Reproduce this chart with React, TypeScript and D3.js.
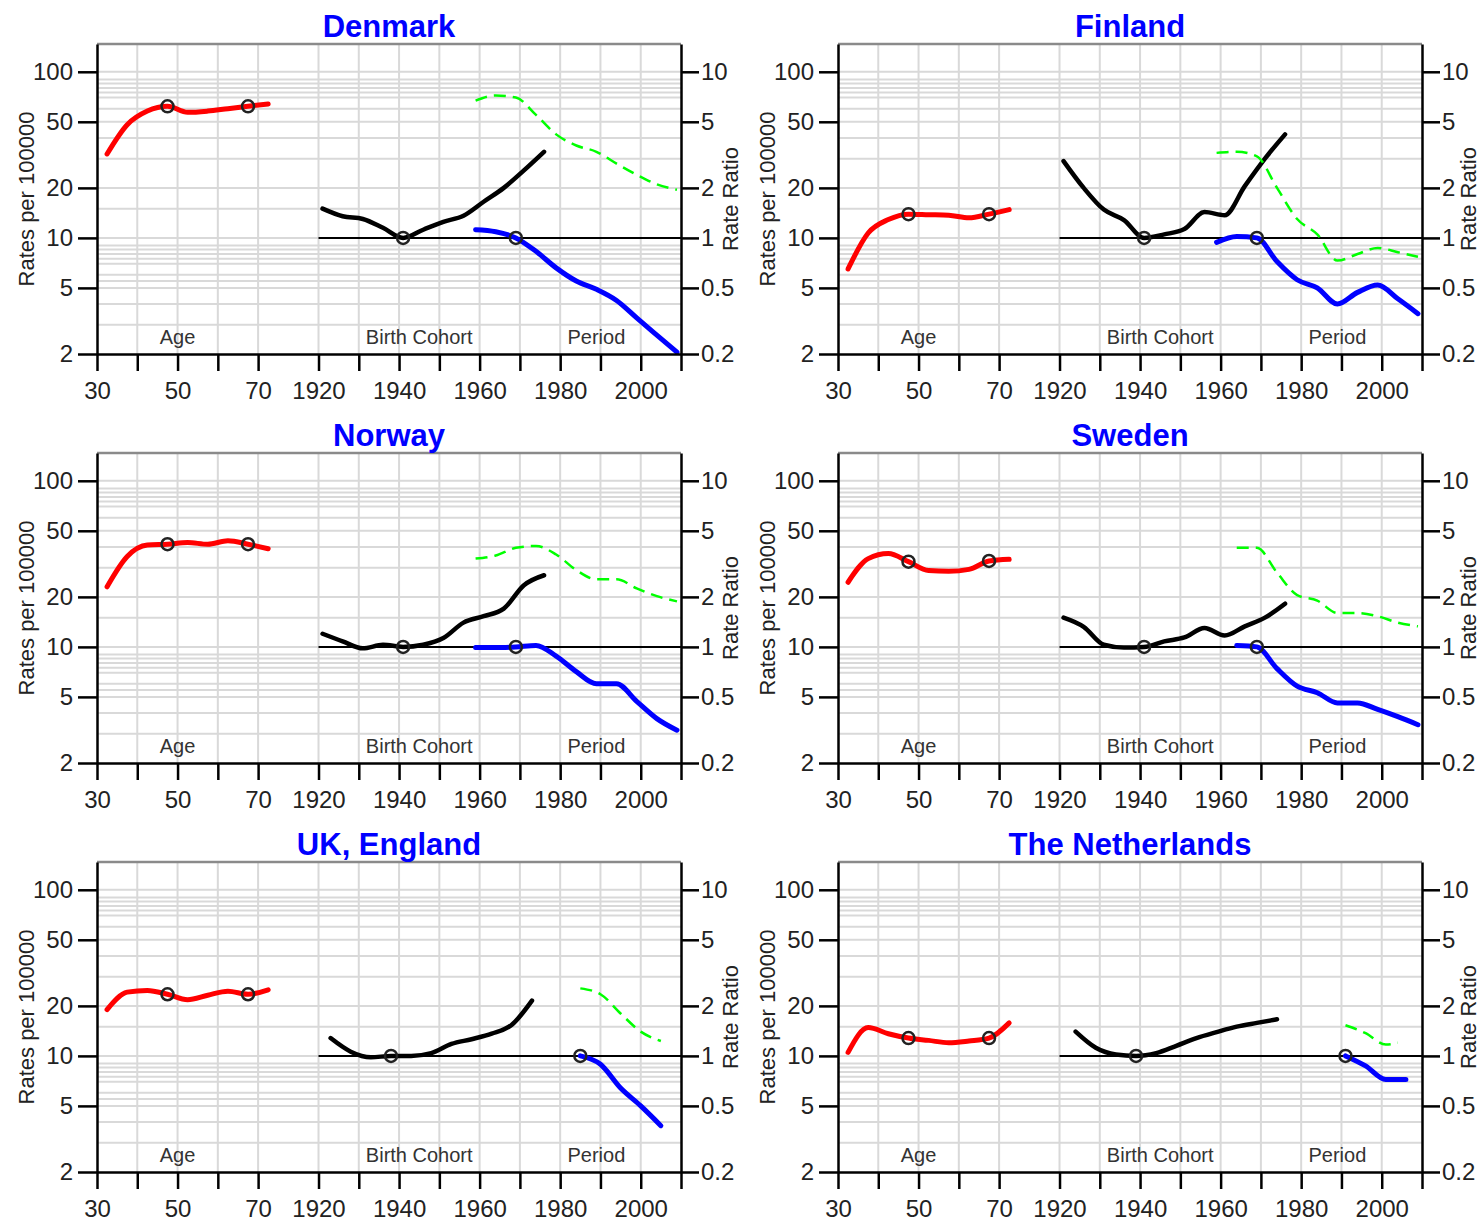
import React, { useEffect, useRef } from "react";
import * as d3 from "d3";

// age group midpoints, shared by all panels
const ageMid = [32.5, 37.5, 42.5, 47.5, 52.5, 57.5, 62.5, 67.5, 72.5];
const refAges = [47.5, 67.5];

// Denmark
const dkAge = [32, 48, 58, 62, 57, 58, 60, 62, 64];
const dkCohortYears = [1921, 1926, 1931, 1936, 1941, 1946, 1951, 1956, 1961, 1966, 1971, 1976];
const dkCohort = [1.5, 1.35, 1.3, 1.15, 1.0, 1.12, 1.25, 1.36, 1.65, 2.0, 2.55, 3.3];
const dkPeriodYears = [1959, 1964, 1969, 1974, 1979, 1984, 1989, 1994, 1999, 2004, 2009];
const dkPeriod = [1.12, 1.09, 1.0, 0.83, 0.66, 0.55, 0.49, 0.42, 0.33, 0.26, 0.205];
const dkDrift = [6.7, 7.2, 7.0, 5.5, 4.2, 3.6, 3.3, 2.8, 2.4, 2.1, 1.95];

// Finland
const fiAge = [6.5, 10.7, 12.9, 13.9, 13.8, 13.7, 13.2, 13.9, 14.8];
const fiCohortYears = [1921, 1926, 1931, 1936, 1941, 1946, 1951, 1956, 1961, 1966, 1971, 1976];
const fiCohort = [2.9, 2.0, 1.48, 1.28, 1.0, 1.05, 1.13, 1.43, 1.37, 2.05, 3.0, 4.2];
const fiPeriodYears = [1959, 1964, 1969, 1974, 1979, 1984, 1989, 1994, 1999, 2004, 2009];
const fiPeriod = [0.94, 1.02, 1.0, 0.72, 0.56, 0.5, 0.4, 0.47, 0.52, 0.43, 0.35];
const fiDrift = [3.25, 3.3, 3.1, 2.0, 1.3, 1.05, 0.73, 0.8, 0.87, 0.82, 0.77];

// Norway
const noAge = [23, 35, 41, 41.5, 42.5, 41.5, 43.5, 41.5, 39];
const noCohortYears = [1921, 1926, 1931, 1936, 1941, 1946, 1951, 1956, 1961, 1966, 1971, 1976];
const noCohort = [1.2, 1.08, 0.98, 1.03, 1.0, 1.03, 1.13, 1.4, 1.53, 1.7, 2.35, 2.7];
const noPeriodYears = [1959, 1964, 1969, 1974, 1979, 1984, 1989, 1994, 1999, 2004, 2009];
const noPeriod = [0.99, 0.99, 1.0, 1.02, 0.88, 0.71, 0.6, 0.6, 0.47, 0.37, 0.315];
const noDrift = [3.4, 3.55, 3.95, 4.05, 3.6, 2.9, 2.55, 2.55, 2.25, 2.02, 1.88];

// Sweden
const seAge = [24.5, 34, 36.5, 32.6, 28.8, 28.5, 29.3, 32.9, 33.7];
const seCohortYears = [1921, 1926, 1931, 1936, 1941, 1946, 1951, 1956, 1961, 1966, 1971, 1976];
const seCohort = [1.5, 1.32, 1.03, 0.99, 1.0, 1.08, 1.14, 1.3, 1.17, 1.33, 1.5, 1.82];
const sePeriodYears = [1964, 1969, 1974, 1979, 1984, 1989, 1994, 1999, 2004, 2009];
const sePeriod = [1.02, 1.0, 0.74, 0.58, 0.53, 0.46, 0.46, 0.42, 0.38, 0.34];
const seDrift = [3.95, 3.95, 2.8, 2.05, 1.9, 1.6, 1.6, 1.53, 1.4, 1.33];

// UK, England
const ukAge = [19, 24.2, 24.8, 23.5, 21.8, 23.2, 24.5, 23.5, 25];
const ukCohortYears = [1923, 1928, 1933, 1938, 1943, 1948, 1953, 1958, 1963, 1968, 1973];
const ukCohort = [1.28, 1.06, 0.98, 1.0, 1.0, 1.04, 1.18, 1.26, 1.36, 1.54, 2.15];
const ukPeriodYears = [1985, 1990, 1995, 2000, 2005];
const ukPeriod = [1.0, 0.89, 0.64, 0.5, 0.38];
const ukDrift = [2.55, 2.35, 1.8, 1.4, 1.23];

// The Netherlands
const nlAge = [10.5, 14.8, 13.6, 12.8, 12.4, 12.0, 12.3, 12.8, 15.8];
const nlCohortYears = [1924, 1929, 1934, 1939, 1944, 1949, 1954, 1959, 1964, 1969, 1974];
const nlCohort = [1.4, 1.12, 1.02, 1.0, 1.04, 1.15, 1.28, 1.39, 1.5, 1.58, 1.66];
const nlPeriodYears = [1991, 1996, 2001, 2006];
const nlPeriod = [1.0, 0.87, 0.72, 0.72];
const nlDriftYears = [1991, 1996, 2001, 2004];
const nlDrift = [1.53, 1.37, 1.17, 1.2];

const countries = [
  { name: "Denmark", age: dkAge, cy: dkCohortYears, coh: dkCohort, cref: 1941, py: dkPeriodYears, per: dkPeriod, pref: 1969, dy: dkPeriodYears, drift: dkDrift },
  { name: "Finland", age: fiAge, cy: fiCohortYears, coh: fiCohort, cref: 1941, py: fiPeriodYears, per: fiPeriod, pref: 1969, dy: fiPeriodYears, drift: fiDrift },
  { name: "Norway", age: noAge, cy: noCohortYears, coh: noCohort, cref: 1941, py: noPeriodYears, per: noPeriod, pref: 1969, dy: noPeriodYears, drift: noDrift },
  { name: "Sweden", age: seAge, cy: seCohortYears, coh: seCohort, cref: 1941, py: sePeriodYears, per: sePeriod, pref: 1969, dy: sePeriodYears, drift: seDrift },
  { name: "UK, England", age: ukAge, cy: ukCohortYears, coh: ukCohort, cref: 1938, py: ukPeriodYears, per: ukPeriod, pref: 1985, dy: ukPeriodYears, drift: ukDrift },
  { name: "The Netherlands", age: nlAge, cy: nlCohortYears, coh: nlCohort, cref: 1939, py: nlPeriodYears, per: nlPeriod, pref: 1991, dy: nlDriftYears, drift: nlDrift },
];

const rateTicks = [2, 5, 10, 20, 50, 100];
const ratioTicks = [0.2, 0.5, 1, 2, 5, 10];
const gridRates = [3, 4, 5, 5.5, 6, 7, 7.5, 8, 8.5, 9, 10, 15, 20, 30, 40, 50, 60, 70, 75, 80, 85, 90, 100];
const ageTicks = [30, 40, 50, 60, 70];
const calTicks = [1920, 1930, 1940, 1950, 1960, 1970, 1980, 1990, 2000, 2010];
const labelled = [30, 50, 70, 1920, 1940, 1960, 1980, 2000];

const FONT = "'Liberation Sans', Arial, Helvetica, sans-serif";

function App() {
  const ref = useRef(null);

  useEffect(() => {
    drawChart();
  }, []);

  function drawChart() {
    const svg = d3.select(ref.current);
    svg.selectAll("*").remove();

    const pw = 584;
    const ph = 310;
    const lefts = [97, 838];
    const tops = [44, 453, 862];
    const calOffset = 1835; // 1920 sits at 85 on the combined axis

    countries.forEach((c, i) => {
      const px = lefts[i % 2];
      const py = tops[Math.floor(i / 2)];
      const g = svg.append("g");

      const x = d3.scaleLinear().domain([30, 175]).range([px, px + pw]);
      const xc = (yr) => x(yr - calOffset);
      const y = d3.scaleLog().domain([2, 147]).range([py + ph, py]);
      const rr = d3.scaleLog().domain([0.2, 14.7]).range([py + ph, py]);

      // grid
      g.append("g")
        .selectAll("line")
        .data(gridRates)
        .enter()
        .append("line")
        .attr("x1", px)
        .attr("x2", px + pw)
        .attr("y1", (d) => y(d))
        .attr("y2", (d) => y(d))
        .attr("stroke", "#d9d9d9")
        .attr("stroke-width", 2);
      const vgrid = ageTicks.slice(1).map((a) => x(a)).concat(calTicks.slice(0, -1).map((t) => xc(t)));
      g.append("g")
        .selectAll("line")
        .data(vgrid)
        .enter()
        .append("line")
        .attr("x1", (d) => d)
        .attr("x2", (d) => d)
        .attr("y1", py)
        .attr("y2", py + ph)
        .attr("stroke", "#d9d9d9")
        .attr("stroke-width", 2);

      // top frame
      g.append("line")
        .attr("x1", px)
        .attr("x2", px + pw)
        .attr("y1", py)
        .attr("y2", py)
        .attr("stroke", "#8a8a8a")
        .attr("stroke-width", 2.5);

      // reference line at RR = 1
      g.append("line")
        .attr("x1", xc(1920))
        .attr("x2", px + pw)
        .attr("y1", rr(1))
        .attr("y2", rr(1))
        .attr("stroke", "black")
        .attr("stroke-width", 2);

      // inner labels
      const inner = [
        ["Age", x(50)],
        ["Birth Cohort", xc(1945)],
        ["Period", xc(1989)],
      ];
      g.selectAll(".inner")
        .data(inner)
        .enter()
        .append("text")
        .attr("x", (d) => d[1])
        .attr("y", py + ph - 10)
        .attr("text-anchor", "middle")
        .style("font-family", FONT)
        .style("font-size", "20px")
        .style("fill", "#333")
        .text((d) => d[0]);

      const line = d3.line().curve(d3.curveMonotoneX);

      // age
      g.append("path")
        .attr("d", line(ageMid.map((a, k) => [x(a), y(c.age[k])])))
        .attr("fill", "none")
        .attr("stroke", "#ff0000")
        .attr("stroke-width", 5)
        .attr("stroke-linecap", "round");
      // cohort
      g.append("path")
        .attr("d", line(c.cy.map((t, k) => [xc(t), rr(c.coh[k])])))
        .attr("fill", "none")
        .attr("stroke", "black")
        .attr("stroke-width", 4.5)
        .attr("stroke-linecap", "round");
      // drift (green dashed)
      g.append("path")
        .attr("d", line(c.dy.map((t, k) => [xc(t), rr(c.drift[k])])))
        .attr("fill", "none")
        .attr("stroke", "#00ff00")
        .attr("stroke-width", 2.5)
        .attr("stroke-dasharray", "12,7");
      // period
      g.append("path")
        .attr("d", line(c.py.map((t, k) => [xc(t), rr(c.per[k])])))
        .attr("fill", "none")
        .attr("stroke", "#0000ff")
        .attr("stroke-width", 5)
        .attr("stroke-linecap", "round");

      // reference circles
      const circles = refAges
        .map((a) => [x(a), y(c.age[ageMid.indexOf(a)])])
        .concat([
          [xc(c.cref), rr(c.coh[c.cy.indexOf(c.cref)])],
          [xc(c.pref), rr(c.per[c.py.indexOf(c.pref)])],
        ]);
      g.selectAll(".refpt")
        .data(circles)
        .enter()
        .append("circle")
        .attr("cx", (d) => d[0])
        .attr("cy", (d) => d[1])
        .attr("r", 6)
        .attr("fill", "none")
        .attr("stroke", "#222")
        .attr("stroke-width", 2.5);

      // axes
      const fmtRate = (d) => String(d);
      const left = g
        .append("g")
        .attr("transform", `translate(${px},0)`)
        .call(d3.axisLeft(y).tickValues(rateTicks).tickFormat(fmtRate).tickSize(19).tickSizeOuter(0).tickPadding(5));
      const right = g
        .append("g")
        .attr("transform", `translate(${px + pw},0)`)
        .call(d3.axisRight(rr).tickValues(ratioTicks).tickFormat(fmtRate).tickSize(18).tickSizeOuter(0).tickPadding(2));
      const bx = d3.scaleLinear().domain([30, 175]).range([px, px + pw]);
      const xTickVals = ageTicks.concat(calTicks.map((t) => t - calOffset));
      const bottom = g
        .append("g")
        .attr("transform", `translate(0,${py + ph})`)
        .call(
          d3
            .axisBottom(bx)
            .tickValues(xTickVals)
            .tickFormat((d) => {
              const v = d > 75 ? d + calOffset : d;
              return labelled.includes(v) ? String(v) : "";
            })
            .tickSize(17)
            .tickSizeOuter(0)
            .tickPadding(11)
        );
      [left, right, bottom].forEach((ax) => {
        ax.select(".domain").attr("stroke", "black").attr("stroke-width", 2.5);
        ax.selectAll(".tick line").attr("stroke", "black").attr("stroke-width", 2.5);
        ax.selectAll("text")
          .style("font-family", FONT)
          .style("font-size", "24px")
          .attr("fill", "#222");
      });

      // axis titles
      g.append("text")
        .attr("transform", `translate(${px - 63},${py + ph / 2}) rotate(-90)`)
        .attr("text-anchor", "middle")
        .style("font-family", FONT)
        .style("font-size", "22px")
        .style("fill", "#222")
        .text("Rates per 100000");
      g.append("text")
        .attr("transform", `translate(${Math.min(px + pw + 57, 1476)},${py + ph / 2}) rotate(-90)`)
        .attr("text-anchor", "middle")
        .style("font-family", FONT)
        .style("font-size", "22px")
        .style("fill", "#222")
        .text("Rate Ratio");

      // title
      g.append("text")
        .attr("x", px + pw / 2)
        .attr("y", py - 7)
        .attr("text-anchor", "middle")
        .style("font-family", FONT)
        .style("font-size", "31px")
        .style("font-weight", "bold")
        .style("fill", "#0000ff")
        .text(c.name);
    });
  }

  return (
    <div style={{ position: "absolute", left: 0, top: 0, width: 1481, height: 1225, background: "white" }}>
      <svg ref={ref} width={1481} height={1225}></svg>
    </div>
  );
}

export default App;
